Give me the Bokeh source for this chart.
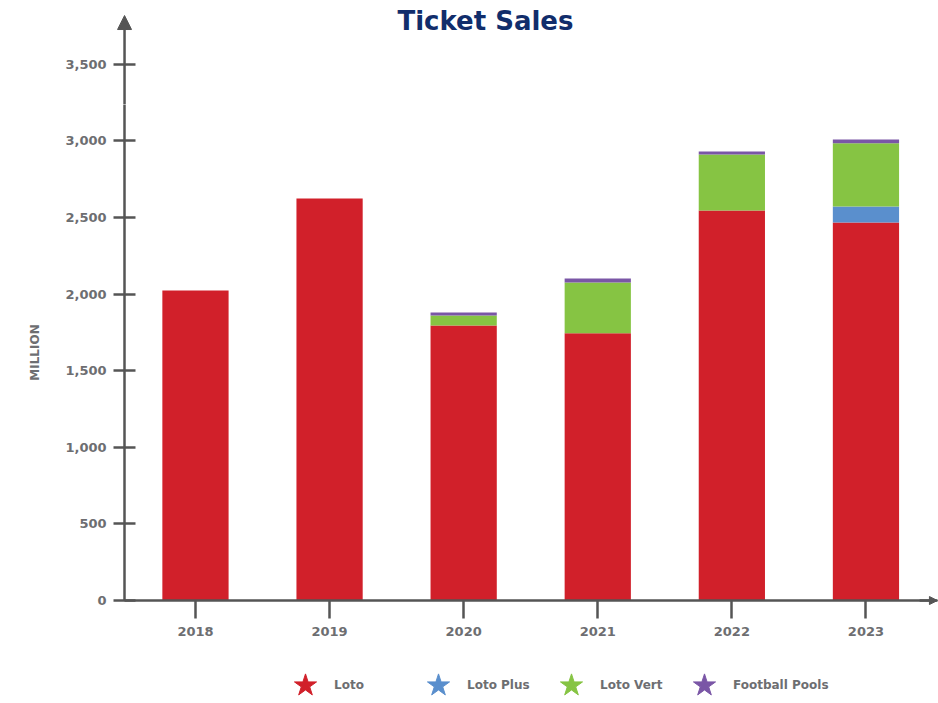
from bokeh.plotting import figure
from bokeh.models import (ColumnDataSource, Range1d, FixedTicker,
                          NumeralTickFormatter, Legend, LegendItem, Arrow,
                          NormalHead, Label)
from bokeh.embed import file_html
from bokeh.resources import INLINE

years = ["2018", "2019", "2020", "2021", "2022", "2023"]
loto = [2023, 2624, 1795, 1745, 2546, 2467]
loto_plus = [0, 0, 0, 0, 0, 105]
loto_vert = [0, 0, 65, 331, 365, 413]
football_pools = [0, 0, 20, 26, 20, 24]
series = ["Loto", "Loto Plus", "Loto Vert", "Football Pools"]
colors = ["#d1202a", "#5a8fcd", "#86c443", "#7a56a6"]
y_ticks = [0, 500, 1000, 1500, 2000, 2500, 3000, 3500]
title_text = "Ticket Sales"

AXIS = "#555555"
LABEL = "#6d6e71"
FONT = "DejaVu Sans"
X_START, X_END = -1.454, 5.541   # frame spans the whole canvas
AXIS_X = -0.529                  # where the y axis sits
X_TIP = 5.533                    # x-axis arrow tip
Y_START, Y_END = -672, 3916
AXIS_TOP = 3240                  # where the y-axis rule hands over to the arrow
ARROW_TIP = 3818

pos = list(range(len(years)))
source = ColumnDataSource(data={
    "pos": pos, "year": years, "Loto": loto, "Loto Plus": loto_plus,
    "Loto Vert": loto_vert, "Football Pools": football_pools,
})

p = figure(width=938, height=703, output_backend="svg", toolbar_location=None,
           x_range=Range1d(X_START, X_END), y_range=Range1d(Y_START, Y_END),
           min_border_left=0, min_border_right=0, min_border_top=0,
           min_border_bottom=0)

p.vbar_stack(series, x="pos", width=0.494, source=source, color=colors,
             line_color=None)

p.xgrid.visible = False
p.ygrid.visible = False
p.outline_line_color = None

p.add_layout(Label(x=1.506, y=3782, text=title_text, text_align="left",
                   text_baseline="alphabetic", text_font=FONT,
                   text_font_size="26px", text_font_style="bold",
                   text_color="#112d6b"))

# axes (pinned inside the frame so nothing is clipped)
p.xaxis.fixed_location = 0
p.xaxis.bounds = (AXIS_X, X_TIP)
p.xaxis.ticker = FixedTicker(ticks=pos)
p.xaxis.major_label_overrides = {i: y for i, y in zip(pos, years)}
p.yaxis.fixed_location = AXIS_X
p.yaxis.bounds = (0, AXIS_TOP)
p.yaxis.ticker = FixedTicker(ticks=y_ticks)
p.yaxis.formatter = NumeralTickFormatter(format="0,0")
p.yaxis.axis_label = "MILLION"
p.yaxis.axis_label_text_font = FONT
p.yaxis.axis_label_text_font_size = "12px"
p.yaxis.axis_label_text_font_style = "bold"
p.yaxis.axis_label_text_color = LABEL
p.yaxis.axis_label_standoff = 20
p.yaxis.major_tick_in = 11
p.yaxis.major_tick_out = 11
p.yaxis.major_label_standoff = 7

p.xaxis.major_tick_in = 0
p.xaxis.major_tick_out = 18
p.xaxis.major_label_standoff = 8

for ax in (p.xaxis, p.yaxis):
    ax.axis_line_color = AXIS
    ax.axis_line_width = 2.5
    ax.major_tick_line_color = AXIS
    ax.major_tick_line_width = 2.5
    ax.minor_tick_line_color = None
    ax.major_label_text_font = FONT
    ax.major_label_text_font_size = "13px"
    ax.major_label_text_font_style = "bold"
    ax.major_label_text_color = LABEL

# axis arrow heads
p.add_layout(Arrow(x_start=AXIS_X, y_start=AXIS_TOP, x_end=AXIS_X, y_end=ARROW_TIP,
                   line_color=AXIS, line_width=2.5,
                   end=NormalHead(size=14, fill_color=AXIS, line_color=AXIS)))
p.add_layout(Arrow(x_start=5.4, y_start=0, x_end=X_TIP, y_end=0,
                   line_color=AXIS, line_width=2.5,
                   end=NormalHead(size=8, fill_color=AXIS, line_color=AXIS)))

# legend (one unplotted NaN row per series so the legend has a glyph to draw)
items = []
for name, c in zip(series, colors):
    src = ColumnDataSource(data={"x": [pos[0]], "y": [float("nan")]})
    r = p.scatter(x="x", y="y", source=src, marker="star", fill_color=c,
                  line_color=c, size=20)
    items.append(LegendItem(label=name, renderers=[r]))

legend = Legend(items=items, orientation="horizontal", location=(276, -14),
                glyph_width=58, glyph_height=64, label_standoff=0,
                label_width=67, spacing=8, padding=0, margin=0,
                border_line_color=None, background_fill_alpha=0,
                label_text_font=FONT, label_text_font_size="12px",
                label_text_font_style="bold", label_text_color=LABEL,
                label_text_baseline="middle")
p.add_layout(legend, "center")

open("out.html", "w").write(file_html(p, INLINE))
